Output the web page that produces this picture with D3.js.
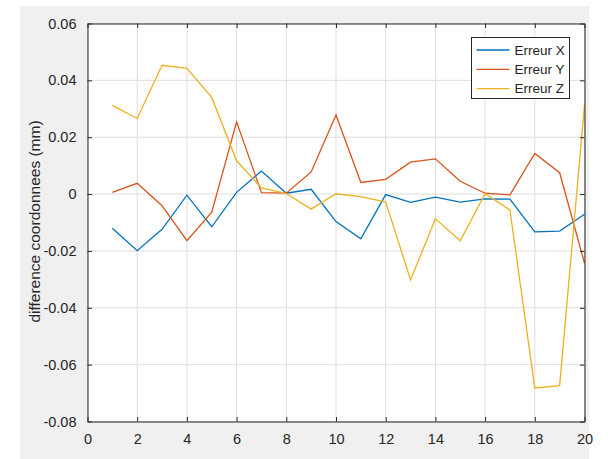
<!DOCTYPE html>
<html>
<head>
<meta charset="utf-8">
<script src="https://cdn.jsdelivr.net/npm/d3@7"></script>
<style>
  body { margin: 0; background: #fff; }
  svg text { font-family: "Liberation Sans", Arial, Helvetica, sans-serif; fill: #262626; }
</style>
</head>
<body>
<div id="chart"></div>
<script>
// valeurs
const points = d3.range(1, 21);
const erreurX = [-0.0120, -0.0199, -0.0124, -0.0004, -0.0115, 0.0006, 0.0081, 0.0003, 0.0017, -0.0097,
                 -0.0157, -0.0002, -0.0029, -0.0011, -0.0028, -0.0017, -0.0018, -0.0133, -0.0130, -0.0071];
const erreurY = [0.0006, 0.0038, -0.0041, -0.0164, -0.0064, 0.0254, 0.0005, 0.0003, 0.0078, 0.0278,
                 0.0041, 0.0052, 0.0112, 0.0124, 0.0045, 0.0003, -0.0003, 0.0143, 0.0075, -0.0243];
const erreurZ = [0.0312, 0.0266, 0.0453, 0.0442, 0.0340, 0.0117, 0.0022, 0.0002, -0.0053, 0.0001,
                 -0.0009, -0.0028, -0.0302, -0.0087, -0.0164, 0.0001, -0.0056, -0.0682, -0.0674, 0.0313];
const seriesNames = ["Erreur X", "Erreur Y", "Erreur Z"];
const seriesColors = ["#0072BD", "#D95319", "#EDB120"];
const xTicks = d3.range(0, 21, 2);
const yTicks = [-0.08, -0.06, -0.04, -0.02, 0, 0.02, 0.04, 0.06];

const W = 608, H = 459;
const margin = { top: 23.5, right: 23.5, bottom: 37.5, left: 87.5 };
const width = W - margin.left - margin.right;
const height = H - margin.top - margin.bottom;

const svg = d3.select("#chart").append("svg")
  .attr("width", W).attr("height", H);

// fond gris de la figure
svg.append("rect")
  .attr("x", 20).attr("y", 6).attr("width", 569).attr("height", H - 6)
  .attr("fill", "#f0f0f0");

const g = svg.append("g").attr("transform", `translate(${margin.left},${margin.top})`);

g.append("rect").attr("width", width).attr("height", height).attr("fill", "#fff");

const x = d3.scaleLinear().domain([0, 20]).range([0, width]);
const y = d3.scaleLinear().domain([-0.08, 0.06]).range([height, 0]);

// grille
g.append("g").attr("class", "grid")
  .selectAll("line.gx").data(xTicks).enter().append("line")
  .attr("x1", d => x(d)).attr("x2", d => x(d))
  .attr("y1", 0).attr("y2", height)
  .attr("stroke", "#dedede").attr("stroke-width", 1);
g.append("g").attr("class", "grid")
  .selectAll("line.gy").data(yTicks).enter().append("line")
  .attr("x1", 0).attr("x2", width)
  .attr("y1", d => y(d)).attr("y2", d => y(d))
  .attr("stroke", "#dedede").attr("stroke-width", 1);

// courbes
const series = [erreurX, erreurY, erreurZ];
const line = d3.line().x((d, i) => x(points[i])).y(d => y(d));
series.forEach((s, k) => {
  g.append("path")
    .datum(s)
    .attr("fill", "none")
    .attr("stroke", seriesColors[k])
    .attr("stroke-width", 1.3)
    .attr("d", line);
});

// axes (ticks vers l'interieur)
const tickLen = 4.5;
const fmtY = d => d === 0 ? "0" : d3.format(".2f")(d).replace("−", "-");

const axB = g.append("g").attr("transform", `translate(0,${height})`)
  .call(d3.axisBottom(x).tickValues(xTicks).tickSizeInner(-tickLen).tickSizeOuter(0).tickPadding(12));
const axL = g.append("g")
  .call(d3.axisLeft(y).tickValues(yTicks).tickSizeInner(-tickLen).tickSizeOuter(0).tickPadding(11).tickFormat(fmtY));
const axT = g.append("g")
  .call(d3.axisTop(x).tickValues(xTicks).tickSizeInner(-tickLen).tickSizeOuter(0).tickFormat(""));
const axR = g.append("g").attr("transform", `translate(${width},0)`)
  .call(d3.axisRight(y).tickValues(yTicks).tickSizeInner(-tickLen).tickSizeOuter(0).tickFormat(""));

[axB, axL, axT, axR].forEach(a => {
  a.select(".domain").attr("stroke", "#262626");
  a.selectAll(".tick line").attr("stroke", "#262626");
  a.selectAll("text").style("font-size", "14.5px").attr("fill", "#262626")
    .style("font-family", "'Liberation Sans', Arial, sans-serif");
});

// titre axe y
svg.append("text")
  .attr("transform", `translate(40,${margin.top + height / 2 - 1}) rotate(-90)`)
  .attr("text-anchor", "middle")
  .style("font-size", "15.5px")
  .text("difference coordonnees (mm)");

// legende
const leg = svg.append("g").attr("transform", "translate(471.5,37.5)");
leg.append("rect")
  .attr("width", 98).attr("height", 61)
  .attr("fill", "#fff").attr("stroke", "#262626").attr("stroke-width", 1);
seriesNames.forEach((name, k) => {
  const yy = 12.5 + k * 19.3;
  leg.append("line")
    .attr("x1", 5).attr("x2", 38).attr("y1", yy).attr("y2", yy)
    .attr("stroke", seriesColors[k]).attr("stroke-width", 1.3);
  leg.append("text")
    .attr("x", 43).attr("y", yy).attr("dy", "0.36em")
    .style("font-size", "13.5px")
    .text(name);
});
</script>
</body>
</html>
